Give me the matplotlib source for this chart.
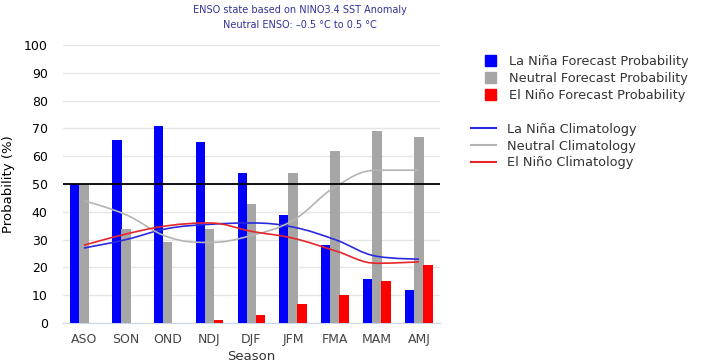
import matplotlib.pyplot as plt
import numpy as np
from matplotlib.path import Path
from matplotlib.patches import PathPatch, Patch
from matplotlib.lines import Line2D

seasons = ["ASO", "SON", "OND", "NDJ", "DJF", "JFM", "FMA", "MAM", "AMJ"]
la_nina_prob = [50, 66, 71, 65, 54, 39, 28, 16, 12]
neutral_prob = [50, 34, 29, 34, 43, 54, 62, 69, 67]
el_nino_prob = [0, 0, 0, 1, 3, 7, 10, 15, 21]

la_nina_clim = [27, 30, 34, 35.5, 36, 34.5, 30, 24, 23]
neutral_clim = [44, 39, 31, 29, 31.5, 37, 49, 55, 55]
el_nino_clim = [28, 32, 35, 36, 33, 30.5, 26, 21.5, 22]

yticks = list(range(0, 101, 10))


def spline_path(xs, ys, smoothing=1.5):
    # smooth curve through the points, highcharts-style bezier controls
    n = len(xs)
    denom = smoothing + 1
    left = [None] * n
    right = [None] * n
    right[0] = (xs[0], ys[0])
    left[-1] = (xs[-1], ys[-1])
    for i in range(1, n - 1):
        x, y = xs[i], ys[i]
        lx = (smoothing * x + xs[i - 1]) / denom
        ly = (smoothing * y + ys[i - 1]) / denom
        rx = (smoothing * x + xs[i + 1]) / denom
        ry = (smoothing * y + ys[i + 1]) / denom
        corr = ((ry - ly) * (rx - x)) / (rx - lx) + y - ry
        ly += corr
        ry += corr
        if ly > ys[i - 1] and ly > y:
            ly = max(ys[i - 1], y)
            ry = 2 * y - ly
        elif ly < ys[i - 1] and ly < y:
            ly = min(ys[i - 1], y)
            ry = 2 * y - ly
        if ry > ys[i + 1] and ry > y:
            ry = max(ys[i + 1], y)
            ly = 2 * y - ry
        elif ry < ys[i + 1] and ry < y:
            ry = min(ys[i + 1], y)
            ly = 2 * y - ry
        left[i] = (lx, ly)
        right[i] = (rx, ry)
    verts = [(xs[0], ys[0])]
    codes = [Path.MOVETO]
    for i in range(1, n):
        verts += [right[i - 1], left[i], (xs[i], ys[i])]
        codes += [Path.CURVE4] * 3
    return Path(verts, codes)


fig = plt.figure(figsize=(7.06, 3.64), dpi=100)
ax = fig.add_axes([0.0892, 0.1126, 0.5338, 0.7634])

x = np.arange(len(seasons))
w = 0.23
off = 0.215
blue, gray, red = "#0000ff", "#a6a6a6", "#ff0000"

ax.bar(x - off, la_nina_prob, w, color=blue, zorder=3)
ax.bar(x, neutral_prob, w, color=gray, zorder=3)
ax.bar(x + off, el_nino_prob, w, color=red, zorder=3)

clim_styles = [(la_nina_clim, "#2a2ae0"), (neutral_clim, "#b4b4b4"), (el_nino_clim, "#e8262a")]
for vals, c in clim_styles:
    p = spline_path(list(x.astype(float)), vals)
    ax.add_patch(PathPatch(p, facecolor="none", edgecolor=c, lw=1.2, zorder=4))

ax.axhline(50, color="black", lw=1.3, zorder=5)

ax.set_xlim(-0.5, len(seasons) - 0.5)
ax.set_ylim(0, 100)
ax.set_yticks(yticks)
ax.set_xticks(x)
ax.set_xticklabels(seasons, color="#444444", fontsize=9)
ax.tick_params(axis="y", labelsize=9, length=0, pad=11)
ax.tick_params(axis="x", length=0, pad=7)
ax.grid(axis="y", color="#e6e6e6", lw=1, zorder=0)
for s in ["top", "right", "left"]:
    ax.spines[s].set_visible(False)
ax.spines["bottom"].set_color("#ccd6eb")

ax.set_ylabel("Probability (%)", fontsize=9.5, labelpad=6)
ax.set_xlabel("Season", fontsize=9.5, color="#333333", labelpad=3)

fig.text(0.425, 0.972, "ENSO state based on NINO3.4 SST Anomaly",
         ha="center", va="center", fontsize=7, color="#333399")
fig.text(0.425, 0.93, "Neutral ENSO: \u20130.5 \u00b0C to 0.5 \u00b0C",
         ha="center", va="center", fontsize=7, color="#333399")

bar_handles = [Patch(color=blue), Patch(color=gray), Patch(color=red)]
bar_labels = ["La Niña Forecast Probability", "Neutral Forecast Probability",
              "El Niño Forecast Probability"]
fig.legend(bar_handles, bar_labels, loc="upper left",
           bbox_to_anchor=(0.67, 0.88), frameon=False, fontsize=9.3,
           handlelength=0.9, handleheight=0.9, handletextpad=1.0,
           labelspacing=0.3, labelcolor="#333333")

line_handles = [Line2D([], [], color="#2a2ae0", lw=1.5),
                Line2D([], [], color="#b4b4b4", lw=1.5),
                Line2D([], [], color="#e8262a", lw=1.5)]
line_labels = ["La Niña Climatology", "Neutral Climatology", "El Niño Climatology"]
fig.legend(line_handles, line_labels, loc="upper left",
           bbox_to_anchor=(0.65, 0.695), frameon=False, fontsize=9.3,
           handlelength=2.0, handletextpad=0.8, labelspacing=0.3,
           labelcolor="#333333")

fig.savefig("out.png", dpi=100)
